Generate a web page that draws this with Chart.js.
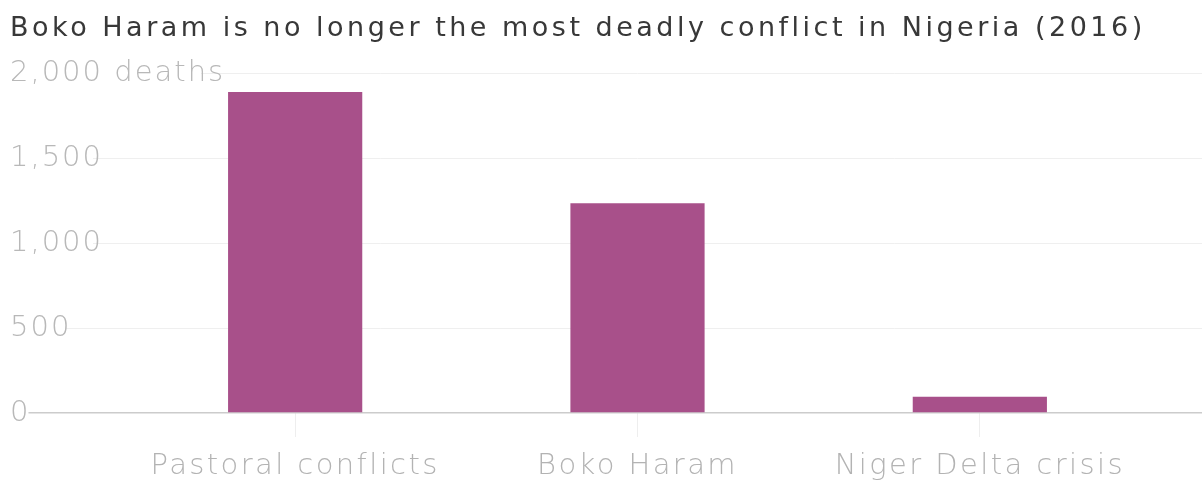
<!DOCTYPE html>
<html>
<head>
<meta charset="utf-8">
<script src="https://cdn.jsdelivr.net/npm/chart.js@4"></script>
<style>
  html, body { margin: 0; padding: 0; background: #fff; }
  #wrap { width: 1202px; height: 485px; }
</style>
</head>
<body>
<div id="wrap"><canvas id="chart"></canvas></div>
<script>
const categories = ['Pastoral conflicts', 'Boko Haram', 'Niger Delta crisis'];
const deaths = [1890, 1235, 95];
const yTicks = [0, 500, 1000, 1500, 2000];
const topTickSuffix = ' deaths';

// letter spacing (px) for the title and for the axis labels
const titleSpacing = 3.5;
const xLabelSpacing = 2.4;
const yLabelSpacing = 2;

const gridColor = ctx => (ctx.tick && ctx.tick.value === 0) ? '#cccccc' : '#efefef';
const gridWidth = ctx => (ctx.tick && ctx.tick.value === 0) ? 1.5 : 1;

// draws a scale's labels with some tracking, canvas letterSpacing does the work
function spaceLabels(scale, px) {
  if (scale._spaced) return;
  scale._spaced = true;
  const orig = scale.drawLabels;
  scale.drawLabels = function (area) {
    const prev = this.ctx.letterSpacing;
    this.ctx.letterSpacing = px + 'px';
    orig.call(this, area);
    this.ctx.letterSpacing = prev;
  };
}

const titleTracking = {
  id: 'titleTracking',
  beforeDraw(chart) { chart.ctx.letterSpacing = titleSpacing + 'px'; },
  afterDraw(chart) { chart.ctx.letterSpacing = '0px'; }
};

new Chart(document.getElementById('chart'), {
  type: 'bar',
  data: {
    labels: categories,
    datasets: [{
      data: deaths,
      backgroundColor: '#a8508a',
      borderWidth: 0,
      categoryPercentage: 1,
      barPercentage: 0.392
    }]
  },
  plugins: [titleTracking],
  options: {
    responsive: true,
    maintainAspectRatio: false,
    animation: false,
    layout: { padding: { left: 10, right: 0, top: 0, bottom: 0 } },
    plugins: {
      legend: { display: false },
      tooltip: { enabled: false },
      title: {
        display: true,
        text: 'Boko Haram is no longer the most deadly conflict in Nigeria (2016)',
        align: 'start',
        color: '#383838',
        font: { family: 'DejaVu Sans', size: 27, weight: 'normal' },
        padding: { top: 13, bottom: 28 }
      }
    },
    scales: {
      x: {
        offset: true,
        grid: {
          offset: false,
          drawOnChartArea: false,
          drawTicks: true,
          tickLength: 24,
          color: '#eeeeee'
        },
        border: { display: false },
        ticks: {
          color: '#b3b3b3',
          padding: 12,
          font: { family: 'DejaVu Sans', size: 29, weight: '200' }
        },
        afterFit: s => { s.height = 72; spaceLabels(s, xLabelSpacing); }
      },
      y: {
        position: 'left',
        min: 0,
        max: 2000,
        afterBuildTicks: s => { s.ticks = yTicks.map(v => ({ value: v })); },
        grid: { color: gridColor, tickColor: gridColor, tickLength: 114, lineWidth: gridWidth },
        border: { display: false },
        ticks: {
          mirror: true,
          crossAlign: 'near',
          padding: -114,
          color: '#b8b8b8',
          font: { family: 'DejaVu Sans', size: 29, weight: '200' },
          showLabelBackdrop: true,
          backdropColor: '#ffffff',
          backdropPadding: ctx => ({
            left: 0, top: 0, bottom: 0,
            right: 14 + String(ctx.tick.label).length * yLabelSpacing
          }),
          callback: v => v.toLocaleString('en-US') + (v === yTicks[yTicks.length - 1] ? topTickSuffix : '')
        },
        afterFit: s => { s.width = 114; spaceLabels(s, yLabelSpacing); }
      },
      yRight: {
        position: 'right',
        min: 0,
        max: 2000,
        afterBuildTicks: s => { s.ticks = yTicks.map(v => ({ value: v })); },
        grid: { drawOnChartArea: false, color: gridColor, tickColor: gridColor, tickLength: 51, lineWidth: gridWidth },
        border: { display: false },
        ticks: { display: false },
        afterFit: s => { s.width = 51; }
      }
    }
  }
});
</script>
</body>
</html>
